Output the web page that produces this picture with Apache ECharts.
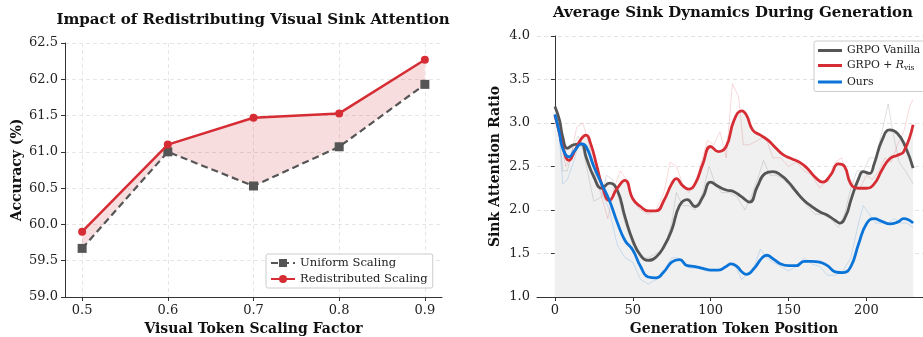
<!DOCTYPE html>
<html>
<head>
<meta charset="utf-8">
<title>sink attention</title>
<script src="https://cdn.jsdelivr.net/npm/echarts@6/dist/echarts.min.js"></script>
<style>
  html, body { margin: 0; padding: 0; background: #ffffff; }
  #main { width: 923px; height: 337px; }
</style>
</head>
<body>
<div id="main"></div>
<script>
// left panel: accuracy vs scaling factor
var scaleFactors = [0.5, 0.6, 0.7, 0.8, 0.9];
var uniformAcc = [59.67, 61.0, 60.53, 61.07, 61.93];
var redistAcc = [59.9, 61.1, 61.47, 61.53, 62.27];
var factorTicks = [0.5, 0.6, 0.7, 0.8, 0.9];

// right panel: smoothed curves
var vanillaPos = [0, 3, 5, 8, 12, 17, 20, 25, 30, 35, 40, 45, 50, 55, 60, 65, 70, 75, 80, 85, 90, 95, 100, 105, 110, 115, 120, 125, 130, 135, 140, 145, 150, 155, 160, 165, 170, 175, 180, 183, 187, 190, 195, 198, 202, 205, 210, 215, 220, 225, 230];
var vanillaVal = [3.19, 3.03, 2.84, 2.71, 2.75, 2.76, 2.61, 2.38, 2.25, 2.31, 2.23, 1.92, 1.65, 1.48, 1.42, 1.46, 1.58, 1.77, 2.05, 2.12, 2.04, 2.15, 2.32, 2.27, 2.23, 2.21, 2.15, 2.09, 2.27, 2.42, 2.44, 2.40, 2.32, 2.21, 2.11, 2.04, 1.98, 1.94, 1.88, 1.85, 1.94, 2.11, 2.36, 2.44, 2.42, 2.53, 2.80, 2.92, 2.88, 2.73, 2.48];

var rvisPos = [0, 3, 5, 9, 13, 17, 20, 23, 27, 30, 35, 40, 45, 50, 55, 60, 65, 70, 75, 78, 82, 86, 90, 95, 100, 105, 110, 115, 120, 123, 127, 132, 137, 142, 147, 152, 157, 162, 167, 172, 177, 182, 186, 190, 195, 200, 205, 210, 215, 220, 224, 230];
var rvisVal = [3.09, 2.88, 2.73, 2.57, 2.69, 2.82, 2.86, 2.76, 2.50, 2.30, 2.11, 2.25, 2.34, 2.13, 2.04, 1.99, 1.99, 2.11, 2.30, 2.36, 2.28, 2.24, 2.30, 2.53, 2.73, 2.67, 2.73, 3.03, 3.14, 3.09, 2.92, 2.86, 2.80, 2.71, 2.63, 2.59, 2.55, 2.48, 2.38, 2.32, 2.40, 2.53, 2.50, 2.30, 2.25, 2.25, 2.30, 2.46, 2.59, 2.63, 2.67, 2.98];

var oursPos = [0, 3, 5, 9, 13, 17, 20, 25, 30, 35, 40, 45, 50, 55, 60, 65, 70, 75, 80, 85, 90, 95, 100, 105, 110, 113, 117, 120, 123, 128, 133, 136, 140, 145, 150, 155, 160, 165, 170, 175, 180, 185, 190, 195, 200, 205, 210, 215, 220, 224, 230];
var oursVal = [3.10, 2.88, 2.71, 2.61, 2.69, 2.76, 2.73, 2.50, 2.30, 2.11, 1.86, 1.65, 1.54, 1.35, 1.23, 1.22, 1.29, 1.40, 1.43, 1.36, 1.35, 1.33, 1.31, 1.31, 1.35, 1.38, 1.35, 1.29, 1.26, 1.33, 1.45, 1.48, 1.44, 1.38, 1.36, 1.36, 1.41, 1.41, 1.40, 1.36, 1.29, 1.28, 1.35, 1.61, 1.84, 1.90, 1.87, 1.84, 1.86, 1.90, 1.85];

// right panel: faint raw traces
var vanillaRawPos = [0, 3, 5, 8, 12, 15, 18, 22, 25, 30, 33, 37, 40, 45, 50, 55, 60, 65, 70, 75, 78, 82, 86, 90, 95, 99, 103, 107, 112, 117, 122, 126, 130, 134, 138, 142, 147, 152, 157, 162, 167, 172, 177, 182, 186, 190, 194, 198, 202, 206, 210, 214, 217, 221, 225, 230];
var vanillaRawVal = [3.2, 2.9, 2.45, 2.45, 2.75, 2.85, 2.7, 2.35, 2.1, 2.15, 2.4, 2.35, 2.2, 1.85, 1.6, 1.45, 1.45, 1.5, 1.55, 1.85, 2.2, 2.05, 2.05, 2.0, 2.2, 2.5, 2.3, 2.2, 2.2, 2.15, 2.0, 2.15, 2.35, 2.57, 2.4, 2.4, 2.35, 2.25, 2.15, 2.05, 1.95, 1.95, 1.9, 1.8, 1.95, 2.25, 2.45, 2.45, 2.6, 2.6, 2.9, 3.22, 2.9, 2.55, 2.45, 2.3];

var rvisRawPos = [0, 4, 7, 10, 14, 18, 22, 26, 30, 34, 38, 42, 46, 50, 55, 60, 65, 70, 74, 78, 82, 86, 90, 94, 98, 102, 106, 110, 114, 118, 121, 125, 130, 135, 140, 145, 150, 155, 160, 165, 170, 175, 180, 184, 188, 192, 196, 200, 204, 208, 212, 216, 220, 224, 228, 230];
var rvisRawVal = [3.1, 2.75, 2.5, 2.6, 2.95, 3.0, 2.75, 2.4, 2.15, 1.9, 2.25, 2.45, 2.35, 2.1, 2.0, 1.95, 2.0, 2.2, 2.55, 2.5, 2.3, 2.2, 2.3, 2.55, 2.8, 2.75, 2.9, 2.6, 3.45, 3.3, 2.75, 2.75, 2.8, 2.85, 2.6, 2.6, 2.5, 2.55, 2.45, 2.4, 2.25, 2.35, 2.55, 2.6, 2.4, 2.3, 2.25, 2.4, 2.35, 2.45, 2.6, 2.55, 2.75, 2.9, 3.2, 3.27];

var oursRawPos = [0, 3, 5, 8, 12, 16, 20, 25, 30, 35, 40, 45, 50, 55, 60, 65, 70, 75, 79, 83, 87, 92, 97, 102, 107, 112, 116, 120, 124, 128, 132, 136, 140, 145, 150, 155, 160, 165, 170, 175, 180, 185, 190, 195, 198, 202, 206, 210, 214, 218, 222, 226, 230];
var oursRawVal = [3.1, 2.8, 2.3, 2.35, 2.55, 2.8, 2.6, 2.4, 2.2, 2.0, 1.6, 1.45, 1.4, 1.2, 1.15, 1.2, 1.3, 1.45, 1.45, 1.4, 1.33, 1.33, 1.3, 1.32, 1.3, 1.4, 1.35, 1.2, 1.28, 1.35, 1.55, 1.45, 1.4, 1.35, 1.3, 1.35, 1.45, 1.38, 1.35, 1.25, 1.25, 1.3, 1.45, 1.85, 2.05, 1.95, 1.85, 1.85, 1.85, 1.9, 1.85, 1.85, 1.8];
var tokenTicks = [0, 50, 100, 150, 200];

var FONT = 'DejaVu Serif';
var GRAY = '#555555';
var RED = '#d62d35';
var BLUE = '#0b74d9';

function pairs(xs, ys) {
  var out = [];
  for (var i = 0; i < xs.length; i++) {
    out.push([xs[i], ys[i]]);
  }
  return out;
}

function axisText() {
  return { fontFamily: FONT, fontSize: 13, color: '#222' };
}

function nameText() {
  return { fontFamily: FONT, fontSize: 14, fontWeight: 'bold', color: '#111' };
}

var chart = echarts.init(document.getElementById('main'), null, { renderer: 'canvas' });

var option = {
  animation: false,
  backgroundColor: '#ffffff',
  graphic: [{
    type: 'text', x: 253, y: 20,
    style: { text: 'Impact of Redistributing Visual Sink Attention', font: 'bold 15px "DejaVu Serif"', fill: '#111',
      align: 'center', verticalAlign: 'middle', textAlign: 'center', textVerticalAlign: 'middle' }
  }, {
    type: 'text', x: 733, y: 13,
    style: { text: 'Average Sink Dynamics During Generation', font: 'bold 15px "DejaVu Serif"', fill: '#111',
      align: 'center', verticalAlign: 'middle', textAlign: 'center', textVerticalAlign: 'middle' }
  }],
  grid: [
    { left: 65, top: 43, width: 377, height: 254, outerBoundsMode: 'none', containLabel: false },
    { left: 537, top: 36, width: 394, height: 261, outerBoundsMode: 'none', containLabel: false }
  ],
  legend: [{
    data: ['Uniform Scaling', 'Redistributed Scaling'],
    orient: 'vertical', left: 266, top: 254,
    itemWidth: 24, itemHeight: 10, itemGap: 4,
    padding: [3, 5, 3, 4],
    backgroundColor: '#ffffff', borderColor: '#cccccc', borderWidth: 1, borderRadius: 2,
    textStyle: { fontFamily: FONT, fontSize: 11.6, color: '#222' }
  }, {
    data: [
      { name: 'GRPO Vanilla', icon: 'rect' },
      { name: 'GRPO + Rvis', icon: 'rect' },
      { name: 'Ours', icon: 'rect' }
    ],
    orient: 'vertical', left: 814, top: 41,
    itemWidth: 24, itemHeight: 3, itemGap: 4,
    padding: [4, 6, 4, 4],
    backgroundColor: '#ffffff', borderColor: '#cccccc', borderWidth: 1, borderRadius: 2,
    formatter: function(name) {
      if (name == 'GRPO + Rvis') {
        return 'GRPO + {i|R}{s|vis}';
      }
      return name;
    },
    textStyle: {
      fontFamily: FONT, fontSize: 10.8, color: '#222',
      rich: {
        i: { fontFamily: FONT, fontStyle: 'italic', fontSize: 10.8, color: '#222' },
        s: { fontFamily: FONT, fontSize: 7.5, color: '#222', padding: [6, 0, 0, 0] }
      }
    }
  }],
  xAxis: [{
    gridIndex: 0, type: 'value', min: 0.48, max: 0.92,
    name: 'Visual Token Scaling Factor', nameLocation: 'middle', nameGap: 25,
    nameTextStyle: nameText(),
    axisLine: { lineStyle: { color: '#333', width: 1 } },
    axisTick: { length: 4, lineStyle: { color: '#333' }, customValues: factorTicks },
    axisLabel: Object.assign(axisText(), { margin: 7, customValues: factorTicks, formatter: function(v) { return v.toFixed(1); } }),
    splitLine: { show: true, lineStyle: { type: [4, 3], color: '#e6e6e6' } }
  }, {
    gridIndex: 1, type: 'value', min: -11.5, max: 241.5,
    name: 'Generation Token Position', nameLocation: 'middle', nameGap: 25,
    nameTextStyle: nameText(),
    axisLine: { lineStyle: { color: '#333', width: 1 } },
    axisTick: { length: 4, lineStyle: { color: '#333' }, customValues: tokenTicks },
    axisLabel: Object.assign(axisText(), { margin: 7, customValues: tokenTicks }),
    splitLine: { show: false }
  }],
  yAxis: [{
    gridIndex: 0, type: 'value', min: 59, max: 62.5, interval: 0.5,
    name: 'Accuracy (%)', nameLocation: 'middle', nameGap: 41,
    nameTextStyle: nameText(),
    axisLine: { show: true, lineStyle: { color: '#333', width: 1 } },
    axisTick: { show: true, length: 4, lineStyle: { color: '#333' } },
    axisLabel: Object.assign(axisText(), { margin: 7, formatter: function(v) { return v.toFixed(1); } }),
    splitLine: { show: true, lineStyle: { type: [4, 3], color: '#e6e6e6' } }
  }, {
    gridIndex: 1, type: 'value', min: 1, max: 4, interval: 0.5,
    name: 'Sink Attention Ratio', nameLocation: 'middle', nameGap: 35,
    nameTextStyle: nameText(),
    axisLine: { show: true, lineStyle: { color: '#333', width: 1 } },
    axisTick: { show: true, length: 4, lineStyle: { color: '#333' } },
    axisLabel: Object.assign(axisText(), { margin: 7, formatter: function(v) { return v.toFixed(1); } }),
    splitLine: { show: true, lineStyle: { type: [4, 3], color: '#e2e2e2' } }
  }],
  series: []
};

// left: shaded gap between the two curves
option.series.push({
  name: 'band', type: 'custom', xAxisIndex: 0, yAxisIndex: 0,
  data: pairs(scaleFactors, redistAcc), z: 1, silent: true,
  renderItem: function(params, api) {
    if (params.dataIndex !== 0) {
      return null;
    }
    var pts = [];
    for (var i = 0; i < scaleFactors.length; i++) {
      pts.push(api.coord([scaleFactors[i], redistAcc[i]]));
    }
    for (var j = scaleFactors.length - 1; j >= 0; j--) {
      pts.push(api.coord([scaleFactors[j], uniformAcc[j]]));
    }
    return { type: 'polygon', shape: { points: pts }, style: { fill: 'rgba(214,45,53,0.16)' } };
  }
});
option.series.push({
  name: 'Uniform Scaling', type: 'line', xAxisIndex: 0, yAxisIndex: 0,
  data: pairs(scaleFactors, uniformAcc),
  symbol: 'rect', symbolSize: 9,
  itemStyle: { color: GRAY },
  lineStyle: { color: GRAY, width: 2.2, type: [7, 4] }, z: 3
});
option.series.push({
  name: 'Redistributed Scaling', type: 'line', xAxisIndex: 0, yAxisIndex: 0,
  data: pairs(scaleFactors, redistAcc),
  symbol: 'circle', symbolSize: 8,
  itemStyle: { color: RED },
  lineStyle: { color: RED, width: 2.5 }, z: 4
});

// right: light grey fill under the curves
var fills = [[vanillaPos, vanillaVal], [rvisPos, rvisVal], [oursPos, oursVal]];
for (var i = 0; i < fills.length; i++) {
  option.series.push({
    name: 'fill' + i, type: 'line', xAxisIndex: 1, yAxisIndex: 1,
    data: pairs(fills[i][0], fills[i][1]), smooth: 0.5, symbol: 'none',
    lineStyle: { opacity: 0 }, areaStyle: { color: '#f0f0f0', opacity: 1, origin: 'start' },
    z: 1, silent: true
  });
}

// right: faint raw traces
var raws = [[vanillaRawPos, vanillaRawVal, GRAY], [rvisRawPos, rvisRawVal, RED], [oursRawPos, oursRawVal, BLUE]];
for (var i = 0; i < raws.length; i++) {
  option.series.push({
    name: 'raw' + i, type: 'line', xAxisIndex: 1, yAxisIndex: 1,
    data: pairs(raws[i][0], raws[i][1]), symbol: 'none',
    lineStyle: { color: raws[i][2], width: 1, opacity: 0.18 },
    z: 2, silent: true
  });
}

// right: smoothed curves
var curves = [['GRPO Vanilla', vanillaPos, vanillaVal, GRAY], ['GRPO + Rvis', rvisPos, rvisVal, RED], ['Ours', oursPos, oursVal, BLUE]];
for (var i = 0; i < curves.length; i++) {
  option.series.push({
    name: curves[i][0], type: 'line', xAxisIndex: 1, yAxisIndex: 1,
    data: pairs(curves[i][1], curves[i][2]), smooth: 0.5, symbol: 'none',
    itemStyle: { color: curves[i][3] },
    lineStyle: { color: curves[i][3], width: 2.8 },
    z: 3 + i
  });
}

chart.setOption(option);
</script>
</body>
</html>
